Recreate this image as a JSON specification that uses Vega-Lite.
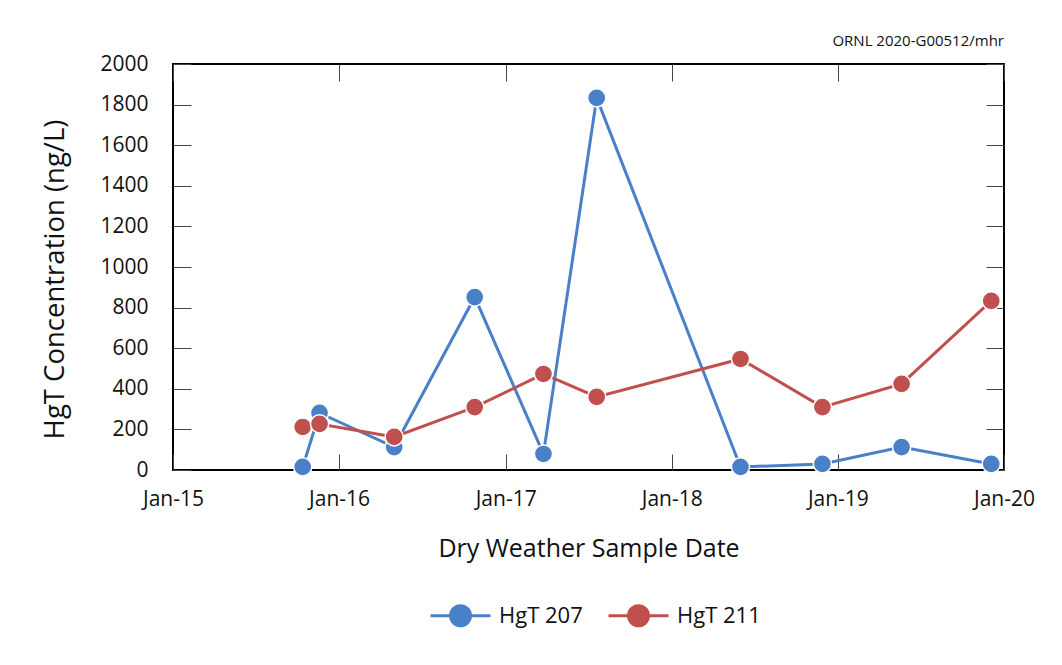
{
  "$schema": "https://vega.github.io/schema/vega-lite/v6.json",
  "width": 831,
  "height": 406,
  "autosize": "none",
  "padding": {"left": 173, "top": 64, "right": 58, "bottom": 195},
  "background": "white",
  "title": {"text": "ORNL 2020-G00512/mhr", "anchor": "end", "frame": "group", "fontSize": 15, "font": "Open Sans", "fontWeight": "normal", "color": "#111111", "offset": 4},
  "data": {
    "values": [
      {"date": "2015-10-13", "series": "HgT 207", "value": 15},
      {"date": "2015-11-19", "series": "HgT 207", "value": 281},
      {"date": "2016-05-01", "series": "HgT 207", "value": 113},
      {"date": "2016-10-25", "series": "HgT 207", "value": 852},
      {"date": "2017-03-25", "series": "HgT 207", "value": 79},
      {"date": "2017-07-20", "series": "HgT 207", "value": 1833},
      {"date": "2018-06-01", "series": "HgT 207", "value": 15},
      {"date": "2018-11-28", "series": "HgT 207", "value": 30},
      {"date": "2019-05-21", "series": "HgT 207", "value": 113},
      {"date": "2019-12-04", "series": "HgT 207", "value": 30},
      {"date": "2015-10-13", "series": "HgT 211", "value": 212},
      {"date": "2015-11-19", "series": "HgT 211", "value": 227},
      {"date": "2016-05-01", "series": "HgT 211", "value": 163},
      {"date": "2016-10-25", "series": "HgT 211", "value": 310},
      {"date": "2017-03-25", "series": "HgT 211", "value": 473},
      {"date": "2017-07-20", "series": "HgT 211", "value": 360},
      {"date": "2018-06-01", "series": "HgT 211", "value": 547},
      {"date": "2018-11-28", "series": "HgT 211", "value": 310},
      {"date": "2019-05-21", "series": "HgT 211", "value": 424},
      {"date": "2019-12-04", "series": "HgT 211", "value": 833}
    ]
  },
  "layer": [
    {
      "mark": {"type": "line", "strokeWidth": 3},
      "encoding": {
        "x": {
          "field": "date", "type": "temporal",
          "scale": {"type": "utc", "domain": [{"year": 2015, "month": 1, "date": 1, "utc": true}, {"year": 2020, "month": 1, "date": 1, "utc": true}]},
          "axis": {
            "orient": "bottom",
            "values": [
              {"year": 2015, "month": 1, "date": 1, "utc": true},
              {"year": 2016, "month": 1, "date": 1, "utc": true},
              {"year": 2017, "month": 1, "date": 1, "utc": true},
              {"year": 2018, "month": 1, "date": 1, "utc": true},
              {"year": 2019, "month": 1, "date": 1, "utc": true},
              {"year": 2020, "month": 1, "date": 1, "utc": true}
            ],
            "format": "%b-%y",
            "title": "Dry Weather Sample Date",
            "titleFontSize": 25,
            "labelFlush": false,
            "tickSize": -16,
            "labelPadding": 34,
            "titlePadding": 27
          }
        },
        "y": {
          "field": "value", "type": "quantitative",
          "scale": {"domain": [0, 2000], "nice": false},
          "axis": {
            "orient": "left",
            "values": [0, 200, 400, 600, 800, 1000, 1200, 1400, 1600, 1800, 2000],
            "format": "d",
            "title": "HgT Concentration (ng/L)",
            "titleFontSize": 27.5,
            "titleY": 215,
            "tickSize": -18,
            "labelPadding": 43,
            "titlePadding": 30
          }
        },
        "color": {
          "field": "series", "type": "nominal",
          "scale": {"domain": ["HgT 207", "HgT 211"], "range": ["#4a80c8", "#c0504d"]},
          "legend": {
            "title": null, "orient": "none", "legendX": 276, "legendY": 540, "direction": "horizontal",
            "symbolType": "M-3,0L-1,0M1,0L3,0M-1,0A1,1 0 1 1 1,0A1,1 0 1 1 -1,0Z",
            "symbolSize": 400, "symbolStrokeWidth": 3, "labelFontSize": 22, "labelFont": "Open Sans",
            "labelColor": "#111111", "labelOffset": 27, "columnPadding": 19,
            "encode": {"symbols": {"update": {"fill": {"scale": "color", "field": "value"}, "stroke": {"scale": "color", "field": "value"}, "strokeWidth": {"value": 3}, "opacity": {"value": 1}}}}
          }
        }
      }
    },
    {
      "mark": {"type": "circle", "size": 330, "opacity": 1, "stroke": "white", "strokeWidth": 1.5},
      "encoding": {
        "x": {
          "field": "date", "type": "temporal",
          "axis": {
            "orient": "top",
            "values": [
              {"year": 2015, "month": 1, "date": 1, "utc": true},
              {"year": 2016, "month": 1, "date": 1, "utc": true},
              {"year": 2017, "month": 1, "date": 1, "utc": true},
              {"year": 2018, "month": 1, "date": 1, "utc": true},
              {"year": 2019, "month": 1, "date": 1, "utc": true},
              {"year": 2020, "month": 1, "date": 1, "utc": true}
            ],
            "labels": false, "title": null, "tickSize": -17
          }
        },
        "y": {
          "field": "value", "type": "quantitative",
          "axis": {
            "orient": "right",
            "values": [0, 200, 400, 600, 800, 1000, 1200, 1400, 1600, 1800, 2000],
            "labels": false, "title": null, "tickSize": -18
          }
        },
        "color": {
          "field": "series", "type": "nominal",
          "legend": {
            "title": null, "orient": "none", "legendX": 276, "legendY": 540, "direction": "horizontal",
            "symbolType": "M-3,0L-1,0M1,0L3,0M-1,0A1,1 0 1 1 1,0A1,1 0 1 1 -1,0Z",
            "symbolSize": 400, "symbolStrokeWidth": 3, "labelFontSize": 22, "labelFont": "Open Sans",
            "labelColor": "#111111", "labelOffset": 27, "columnPadding": 19,
            "encode": {"symbols": {"update": {"fill": {"scale": "color", "field": "value"}, "stroke": {"scale": "color", "field": "value"}, "strokeWidth": {"value": 3}, "opacity": {"value": 1}}}}
          }
        }
      }
    }
  ],
  "resolve": {"axis": {"x": "independent", "y": "independent"}},
  "config": {
    "view": {"stroke": "black", "strokeWidth": 2},
    "axis": {
      "grid": false, "domain": false,
      "tickColor": "#444444", "tickWidth": 1,
      "labelFont": "Open Sans", "labelFontSize": 21, "labelColor": "#111111",
      "titleFont": "Open Sans", "titleFontSize": 24, "titleFontWeight": "normal", "titleColor": "#111111"
    }
  }
}
